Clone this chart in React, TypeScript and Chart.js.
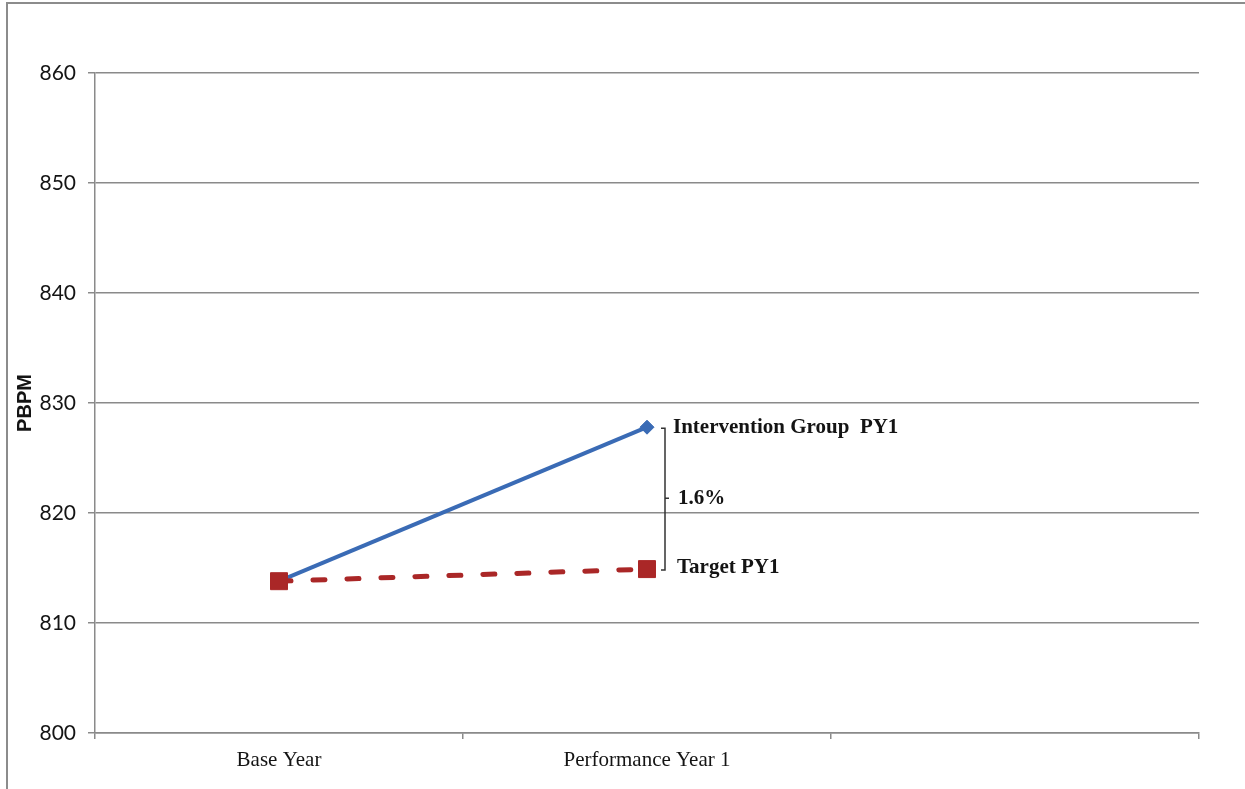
import { useEffect, useRef } from 'react';
import { Chart, registerables } from 'chart.js';

Chart.register(...registerables);

// Categories along the x axis (the third slot is left empty on purpose)
const categories = ['Base Year', 'Performance Year 1', ''];

// Per-beneficiary-per-month cost, in dollars
const interventionPBPM: (number | null)[] = [813.8, 827.8, null];
const targetPBPM: (number | null)[] = [813.8, 814.9, null];

// Value axis
const yMin = 800;
const yMax = 860;
const yStep = 10;

const interventionLabel = 'Intervention Group  PY1';
const targetLabel = 'Target PY1';
const yTitle = 'PBPM';

const BLUE = '#3A6BB5';
const RED = '#AA2727';
const GRID = '#8a8a8a';
const INK = '#141414';

const annotatePlugin = {
  id: 'annotate',
  beforeDraw(chart: Chart) {
    const ctx = chart.ctx;
    ctx.save();
    // outer frame around the whole graphic
    ctx.strokeStyle = '#8c8c8c';
    ctx.lineWidth = 2;
    ctx.beginPath();
    ctx.moveTo(7, chart.height);
    ctx.lineTo(7, 3);
    ctx.lineTo(chart.width, 3);
    ctx.stroke();

    // vertical axis title
    ctx.fillStyle = INK;
    ctx.font = 'bold 20px "Liberation Sans", Arial, sans-serif';
    ctx.textAlign = 'center';
    ctx.textBaseline = 'middle';
    ctx.translate(25, (chart.chartArea.top + chart.chartArea.bottom) / 2);
    ctx.rotate(-Math.PI / 2);
    ctx.fillText(yTitle, 0, 0);
    ctx.restore();
  },
  afterDatasetsDraw(chart: Chart) {
    const ctx = chart.ctx;
    const blueMeta = chart.getDatasetMeta(1);
    const redMeta = chart.getDatasetMeta(0);
    const bp = blueMeta.data[1];
    const rp = redMeta.data[1];
    if (!bp || !rp) return;

    const bx = bp.x;
    const by = bp.y;
    const rx = rp.x;
    const ry = rp.y;

    ctx.save();
    // bracket spanning the gap between the two PY1 values
    const bxk = bx + 18;
    const midY = (by + ry) / 2;
    ctx.strokeStyle = '#333';
    ctx.lineWidth = 1.5;
    ctx.beginPath();
    ctx.moveTo(bxk - 4, by + 1);
    ctx.lineTo(bxk, by + 1);
    ctx.lineTo(bxk, ry + 1);
    ctx.lineTo(bxk - 4, ry + 1);
    ctx.moveTo(bxk, midY);
    ctx.lineTo(bxk + 4, midY);
    ctx.stroke();

    ctx.fillStyle = INK;
    ctx.font = 'bold 21px "Liberation Serif", "Times New Roman", serif';
    ctx.textAlign = 'left';
    ctx.textBaseline = 'middle';
    ctx.fillText(interventionLabel, bx + 26, by);
    ctx.fillText(targetLabel, rx + 30, ry - 2);

    const bv = interventionPBPM[1] as number;
    const rv = targetPBPM[1] as number;
    const pct = ((bv - rv) / rv) * 100;
    ctx.fillText(pct.toFixed(1) + '%', bxk + 13, midY);
    ctx.restore();
  },
};

export default function App() {
  const canvasRef = useRef<HTMLCanvasElement | null>(null);

  useEffect(() => {
    document.body.style.overflow = 'hidden';
    const canvas = canvasRef.current;
    if (!canvas) return;

    const chart = new Chart(canvas, {
      type: 'line',
      data: {
        labels: categories,
        datasets: [
          {
            label: targetLabel,
            data: targetPBPM,
            borderColor: RED,
            backgroundColor: RED,
            borderWidth: 5,
            borderDash: [12, 22],
            borderCapStyle: 'round',
            pointStyle: 'rect',
            pointRadius: 12,
            pointBorderWidth: 1,
            pointBackgroundColor: RED,
            pointBorderColor: RED,
            tension: 0,
          },
          {
            label: interventionLabel,
            data: interventionPBPM,
            borderColor: BLUE,
            backgroundColor: BLUE,
            borderWidth: 4,
            pointStyle: 'rectRot',
            pointRadius: 7,
            pointBorderWidth: 1,
            pointBackgroundColor: BLUE,
            pointBorderColor: BLUE,
            tension: 0,
          },
        ],
      },
      options: {
        responsive: false,
        animation: false,
        devicePixelRatio: 1,
        layout: { padding: { left: 0, top: 73, right: 46, bottom: 0 } },
        plugins: {
          legend: { display: false },
          tooltip: { enabled: false },
        },
        scales: {
          x: {
            type: 'category',
            offset: true,
            grid: {
              offset: true,
              drawOnChartArea: false,
              drawTicks: true,
              tickLength: 6,
              color: GRID,
              lineWidth: 1.5,
            },
            border: { color: GRID, width: 1.5 },
            ticks: {
              color: INK,
              padding: 9,
              maxRotation: 0,
              autoSkip: false,
              font: { family: '"Liberation Serif", "Times New Roman", serif', size: 21 },
            },
            afterFit(scale: any) {
              scale.height = 56;
            },
          },
          y: {
            min: yMin,
            max: yMax,
            grid: {
              color: GRID,
              lineWidth: 1.5,
              drawTicks: true,
              tickLength: 7,
            },
            border: { color: GRID, width: 1.5 },
            ticks: {
              stepSize: yStep,
              color: INK,
              padding: 12,
              font: { family: 'Lato, "Liberation Sans", sans-serif', size: 21 },
            },
            afterFit(scale: any) {
              scale.width = 95;
            },
          },
        },
      },
      plugins: [annotatePlugin],
    });

    return () => {
      chart.destroy();
    };
  }, []);

  return (
    <div style={{ position: 'absolute', left: 0, top: 0, width: 1245, height: 789, background: '#fff' }}>
      <canvas ref={canvasRef} width={1245} height={789} style={{ display: 'block' }} />
    </div>
  );
}
